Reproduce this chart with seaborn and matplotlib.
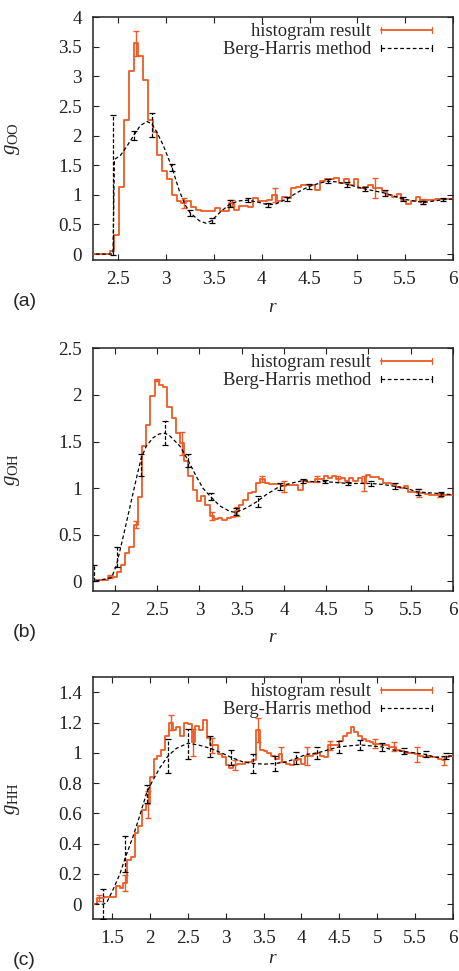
import numpy as np
import matplotlib
matplotlib.use("Agg")
import matplotlib.pyplot as plt
import seaborn as sns
from matplotlib.lines import Line2D
from matplotlib.legend_handler import HandlerBase

# ---------------- data ----------------
BIN = 0.05
# panel (a) g_OO
oo_hist_start = 2.16
oo_hist = [0, 0, 0, 0, 0,
           0.05, 0.32, 1.13, 2.26, 3.10, 3.56, 3.35, 2.94, 2.26, 2.06,
           1.68, 1.40, 1.26, 1.00, 0.90, 0.86, 0.89, 0.80, 0.75, 0.72,
           0.72, 0.73, 0.78, 0.72, 0.72, 0.86, 0.75, 0.82, 0.82, 0.80,
           0.95, 0.89, 0.89, 0.92, 1.00, 0.89, 0.97, 0.95, 1.12, 1.14,
           1.17, 1.17, 1.17, 1.09, 1.23, 1.26, 1.27, 1.29, 1.20, 1.27,
           1.17, 1.26, 1.11, 1.14, 1.17, 1.12, 1.11, 1.06, 1.00, 0.97,
           1.01, 0.92, 0.85, 0.89, 0.96, 0.89, 0.92, 0.92, 0.93, 0.93,
           0.93, 0.93, 0.93]
oo_hist_err_r = [2.66, 3.16, 3.66, 4.11, 5.16, 5.66]
oo_hist_err = [0.21, 0.08, 0.05, 0.12, 0.17, 0.04]
oo_bh_r = [2.20, 2.445, 2.46, 2.52, 2.59, 2.66, 2.73, 2.80, 2.85, 2.90, 2.97, 3.06,
           3.14, 3.20, 3.25, 3.35, 3.42, 3.48, 3.56, 3.67, 3.77, 3.86, 3.98, 4.07,
           4.15, 4.26, 4.36, 4.49, 4.61, 4.69, 4.78, 4.89, 5.08, 5.29, 5.48, 5.69,
           5.90, 6.0]
oo_bh_g = [0, 0, 1.60, 1.66, 1.82, 2.00, 2.17, 2.24, 2.20, 2.07, 1.84, 1.47,
           1.06, 0.83, 0.70, 0.56, 0.52, 0.57, 0.70, 0.85, 0.90, 0.91, 0.87, 0.83,
           0.85, 0.93, 1.03, 1.14, 1.20, 1.23, 1.22, 1.18, 1.10, 1.03, 0.93, 0.87,
           0.92, 0.93]
oo_bh_err_r = [2.445, 2.66, 2.85, 3.06, 3.25, 3.48, 3.67, 3.86, 4.07, 4.26, 4.49,
               4.69, 4.89, 5.08, 5.29, 5.48, 5.69, 5.90]
oo_bh_err_g = [1.17, 2.00, 2.18, 1.47, 0.70, 0.57, 0.85, 0.91, 0.83, 0.93, 1.14,
               1.23, 1.18, 1.10, 1.03, 0.93, 0.87, 0.92]
oo_bh_err = [1.18, 0.08, 0.20, 0.06, 0.05, 0.04, 0.06, 0.03, 0.03, 0.04, 0.04,
             0.03, 0.04, 0.04, 0.05, 0.03, 0.03, 0.02]

# panel (b) g_OH
oh_hist_start = 1.67
oh_hist = [0.01, 0.01, 0.015, 0.02, 0.02, 0.05, 0.05, 0.10, 0.18, 0.30,
           0.37, 0.61, 0.91, 1.45, 1.68, 1.99, 2.16, 2.11, 2.09, 1.87,
           1.75, 1.59, 1.48, 1.29, 1.13, 0.98, 0.86, 0.92, 0.82, 0.70,
           0.67, 0.68, 0.66, 0.68, 0.69, 0.75, 0.82, 0.875, 0.95, 0.96,
           1.05, 1.10, 1.05, 1.04, 1.04, 1.04, 1.02, 1.03, 1.03, 1.03,
           0.98, 1.09, 1.07, 1.07, 1.10, 1.10, 1.13, 1.11, 1.13, 1.10,
           1.11, 1.08, 1.11, 1.08, 1.11, 1.05, 1.14, 1.12, 1.12, 1.10,
           1.06, 1.05, 1.04, 1.01, 1.00, 1.02, 0.96, 0.96, 0.95, 0.95,
           0.94, 0.93, 0.93, 0.93, 0.93, 0.93, 0.93, 0.93]
oh_hist_err_r = [1.92, 2.22, 2.47, 2.77, 3.12, 3.42, 3.72, 3.97, 4.37, 4.62, 4.92, 5.57, 5.82]
oh_hist_err = [0.015, 0.04, 0.015, 0.12, 0.04, 0.05, 0.03, 0.06, 0.03, 0.03, 0.08, 0.04, 0.02]
oh_bh_r = [1.70, 1.75, 1.96, 2.02, 2.10, 2.18, 2.26, 2.31, 2.37, 2.45, 2.52, 2.59,
           2.65, 2.77, 2.87, 2.96, 3.04, 3.13, 3.24, 3.36, 3.43, 3.56, 3.67, 3.79,
           3.95, 4.07, 4.22, 4.34, 4.48, 4.62, 4.76, 4.89, 5.03, 5.17, 5.31, 5.44,
           5.58, 5.72, 5.86, 6.0]
oh_bh_g = [0.0, 0.0, 0.04, 0.18, 0.49, 0.81, 1.13, 1.32, 1.45, 1.54, 1.58, 1.59,
           1.56, 1.45, 1.29, 1.13, 1.00, 0.91, 0.81, 0.75, 0.74, 0.79, 0.85, 0.93,
           1.02, 1.05, 1.08, 1.07, 1.07, 1.06, 1.05, 1.05, 1.05, 1.04, 1.02, 1.00,
           0.96, 0.95, 0.94, 0.93]
oh_bh_err_r = [1.75, 2.02, 2.31, 2.59, 2.86, 3.14, 3.43, 3.69, 3.95, 4.22, 4.48,
               4.76, 5.03, 5.31, 5.58, 5.86]
oh_bh_err_g = [0.09, 0.26, 1.25, 1.59, 1.30, 0.91, 0.75, 0.86, 1.02, 1.08, 1.07,
               1.05, 1.05, 1.02, 0.96, 0.94]
oh_bh_err = [0.09, 0.11, 0.12, 0.13, 0.07, 0.04, 0.04, 0.06, 0.04, 0.02, 0.02,
             0.02, 0.03, 0.03, 0.03, 0.02]

# panel (c) g_HH
hh_hist_start = 1.20
hh_hist = [0.00, 0.00, 0.04, 0.04, 0.05, 0.05, 0.05, 0.12, 0.11, 0.14,
           0.29, 0.31, 0.47, 0.52, 0.62, 0.66, 0.84, 0.96, 0.98, 1.02,
           1.11, 1.20, 1.15, 1.17, 1.11, 1.20, 1.19, 1.07, 1.18, 1.15,
           1.22, 1.10, 1.05, 1.05, 0.99, 0.97, 0.92, 0.90, 0.92, 0.93,
           0.93, 0.94, 0.94, 0.95, 1.15, 1.02, 1.01, 1.00, 0.98, 0.96,
           0.99, 0.94, 0.93, 0.92, 0.95, 0.96, 0.93, 0.98, 0.98, 0.99,
           1.00, 0.98, 0.97, 1.05, 1.05, 1.05, 1.08, 1.11, 1.13, 1.17,
           1.14, 1.11, 1.09, 1.08, 1.07, 1.06, 1.06, 1.05, 1.05, 1.04,
           1.04, 1.02, 1.01, 1.00, 1.00, 1.00, 0.99, 0.98, 0.97, 0.98,
           0.97, 0.97, 0.96, 0.95, 0.97, 0.98, 0.98]
hh_hist_err_r = [1.30, 1.65, 1.95, 2.25, 2.55, 2.80, 3.10, 3.40, 3.70, 4.05,
                 4.35, 4.95, 5.20, 5.50, 5.85]
hh_hist_err = [0.02, 0.05, 0.09, 0.05, 0.09, 0.05, 0.03, 0.08, 0.05, 0.06,
               0.03, 0.03, 0.03, 0.05, 0.03]
hh_bh_r = [1.20, 1.386, 1.43, 1.518, 1.605, 1.671, 1.78, 1.87, 1.957, 2.02,
           2.13, 2.24, 2.35, 2.506, 2.66, 2.80, 2.946, 3.077, 3.23, 3.363,
           3.517, 3.65, 3.80, 3.934, 4.066, 4.21, 4.35, 4.496, 4.637, 4.778,
           4.90, 5.063, 5.208, 5.35, 5.494, 5.64, 5.78, 5.91, 6.0]
hh_bh_g = [0, 0, 0.01, 0.10, 0.20, 0.30, 0.45, 0.59, 0.735, 0.80,
           0.90, 0.98, 1.03, 1.065, 1.05, 1.03, 1.00, 0.97, 0.94, 0.93,
           0.926, 0.93, 0.94, 0.965, 0.99, 1.00, 1.02, 1.04, 1.047, 1.053,
           1.047, 1.04, 1.02, 1.01, 1.00, 0.99, 0.97, 0.977, 0.98]
hh_bh_err_r = [1.386, 1.671, 1.957, 2.24, 2.506, 2.80, 3.077, 3.363, 3.65, 3.934,
               4.21, 4.496, 4.778, 5.063, 5.35, 5.64, 5.91]
hh_bh_err_g = [0.0, 0.33, 0.73, 0.98, 1.06, 1.04, 0.97, 0.93, 0.93, 0.965,
               1.00, 1.04, 1.053, 1.04, 1.01, 0.99, 0.977]
hh_bh_err = [0.10, 0.12, 0.06, 0.11, 0.10, 0.07, 0.05, 0.06, 0.05, 0.04,
             0.04, 0.04, 0.035, 0.025, 0.02, 0.02, 0.02]

panels = [
    dict(tag="(a)", ylab=r"$g_{\mathrm{OO}}$", xlim=(2.236, 6.0), ylim=(-0.1, 4.0),
         xticks=[2.5, 3, 3.5, 4, 4.5, 5, 5.5, 6], yticks=[0, 0.5, 1, 1.5, 2, 2.5, 3, 3.5, 4],
         hs=oo_hist_start, h=oo_hist, her=oo_hist_err_r, he=oo_hist_err,
         br=oo_bh_r, bg=oo_bh_g, ber=oo_bh_err_r, beg=oo_bh_err_g, be=oo_bh_err,
         rpos=-0.195),
    dict(tag="(b)", ylab=r"$g_{\mathrm{OH}}$", xlim=(1.74, 6.0), ylim=(-0.1, 2.5),
         xticks=[2, 2.5, 3, 3.5, 4, 4.5, 5, 5.5, 6], yticks=[0, 0.5, 1, 1.5, 2, 2.5],
         hs=oh_hist_start, h=oh_hist, her=oh_hist_err_r, he=oh_hist_err,
         br=oh_bh_r, bg=oh_bh_g, ber=oh_bh_err_r, beg=oh_bh_err_g, be=oh_bh_err,
         rpos=-0.195),
    dict(tag="(c)", ylab=r"$g_{\mathrm{HH}}$", xlim=(1.25, 6.0), ylim=(-0.1, 1.5),
         xticks=[1.5, 2, 2.5, 3, 3.5, 4, 4.5, 5, 5.5, 6], yticks=[0, 0.2, 0.4, 0.6, 0.8, 1, 1.2, 1.4],
         hs=hh_hist_start, h=hh_hist, her=hh_hist_err_r, he=hh_hist_err,
         br=hh_bh_r, bg=hh_bh_g, ber=hh_bh_err_r, beg=hh_bh_err_g, be=hh_bh_err,
         rpos=-0.16),
]

# ---------------- style ----------------
sns.set_style("ticks")
plt.rcParams.update({
    "font.family": ["Liberation Serif", "DejaVu Serif"],
    "mathtext.fontset": "custom",
    "mathtext.rm": "Liberation Serif",
    "mathtext.it": "Liberation Serif:italic",
    "xtick.direction": "in", "ytick.direction": "in",
    "xtick.top": True, "ytick.right": True,
    "xtick.major.size": 4, "ytick.major.size": 4,
    "xtick.major.width": 0.8, "ytick.major.width": 0.8,
    "axes.linewidth": 1.1, "axes.edgecolor": "#222222",
    "xtick.color": "#222222", "ytick.color": "#222222",
    "font.size": 13,
})

ORANGE = "#EE5A24"
FS_TICK = 13.8
FS_LEG = 13.3


class CapLine(HandlerBase):
    def create_artists(self, legend, orig, xdescent, ydescent, width, height,
                       fontsize, trans):
        y = height / 2 - ydescent
        x0, x1 = -xdescent, width - xdescent
        c = orig.get_color()
        lw = orig.get_linewidth()
        main = Line2D([x0, x1], [y, y], color=c, lw=lw, linestyle=orig.get_linestyle())
        if orig.get_linestyle() != "-":
            main.set_dashes((3, 2))
        hcap = 2.2
        c1 = Line2D([x0, x0], [y - hcap, y + hcap], color=c, lw=0.9)
        c2 = Line2D([x1, x1], [y - hcap, y + hcap], color=c, lw=0.9)
        for a in (main, c1, c2):
            a.set_transform(trans)
        return [main, c1, c2]


fig = plt.figure(figsize=(4.59, 9.71), dpi=100)
axes_pos = [
    [93 / 459, 1 - 260 / 971, 360 / 459, 242.7 / 971],
    [93 / 459, 1 - 590.7 / 971, 360 / 459, 242.4 / 971],
    [93 / 459, 1 - 919.3 / 971, 360 / 459, 242.0 / 971],
]

for p, pos in zip(panels, axes_pos):
    ax = fig.add_axes(pos)
    h = np.array(p["h"], dtype=float)
    left = p["hs"] + BIN * np.arange(len(h))
    centers = left + BIN / 2
    sns.lineplot(x=centers, y=h, ax=ax, drawstyle="steps-mid", color=ORANGE,
                 lw=1.3, estimator=None, sort=False, zorder=3)
    idx = [int(round((r - p["hs"]) / BIN)) for r in p["her"]]
    ax.errorbar(centers[idx], h[idx], yerr=p["he"], fmt="none", ecolor=ORANGE,
                elinewidth=1.0, capsize=2.2, capthick=1.0, zorder=3)
    sns.lineplot(x=p["br"], y=p["bg"], ax=ax, color="black", lw=0.9,
                 dashes=False, estimator=None, sort=False, zorder=4)
    ax.lines[-1].set_linestyle((0, (3, 2)))
    eb = ax.errorbar(p["ber"], p["beg"], yerr=p["be"], fmt="none", ecolor="black",
                     elinewidth=0.9, capsize=2.2, capthick=0.9, zorder=4)
    for lc in eb[2]:
        lc.set_linestyle((0, (3, 1.5)))

    ax.set_xlim(*p["xlim"])
    ax.set_ylim(*p["ylim"])
    ax.set_xticks(p["xticks"])
    ax.set_yticks(p["yticks"])
    ax.set_xticklabels(["%g" % t for t in p["xticks"]])
    ax.set_yticklabels(["%g" % t for t in p["yticks"]])
    ax.tick_params(axis="x", labelsize=FS_TICK, pad=8)
    ax.tick_params(axis="y", labelsize=FS_TICK, pad=8)
    for s in ax.spines.values():
        s.set_visible(True)
    ax.set_ylabel(p["ylab"], fontsize=15)
    ax.yaxis.set_label_coords(-0.197, 0.5)
    ax.set_xlabel(r"$r$", fontsize=14)
    ax.xaxis.label.set_va("center")
    ax.xaxis.set_label_coords(0.5, p["rpos"])
    ax.text(-0.19, -0.172, p["tag"], transform=ax.transAxes, ha="center", va="center",
            fontsize=14, family=["Liberation Sans", "DejaVu Sans"])

    hist_proxy = Line2D([], [], color=ORANGE, lw=1.3, linestyle="-")
    bh_proxy = Line2D([], [], color="black", lw=0.9, linestyle="--")
    ax.legend([hist_proxy, bh_proxy], ["histogram result", "Berg-Harris method"],
              handler_map={Line2D: CapLine()}, loc="upper right",
              bbox_to_anchor=(0.9417, 0.975), frameon=False, markerfirst=False,
              fontsize=FS_LEG, handlelength=2.75, handletextpad=0.55, labelspacing=0.05,
              borderpad=0, borderaxespad=0)

fig.savefig("out.png", dpi=100)
